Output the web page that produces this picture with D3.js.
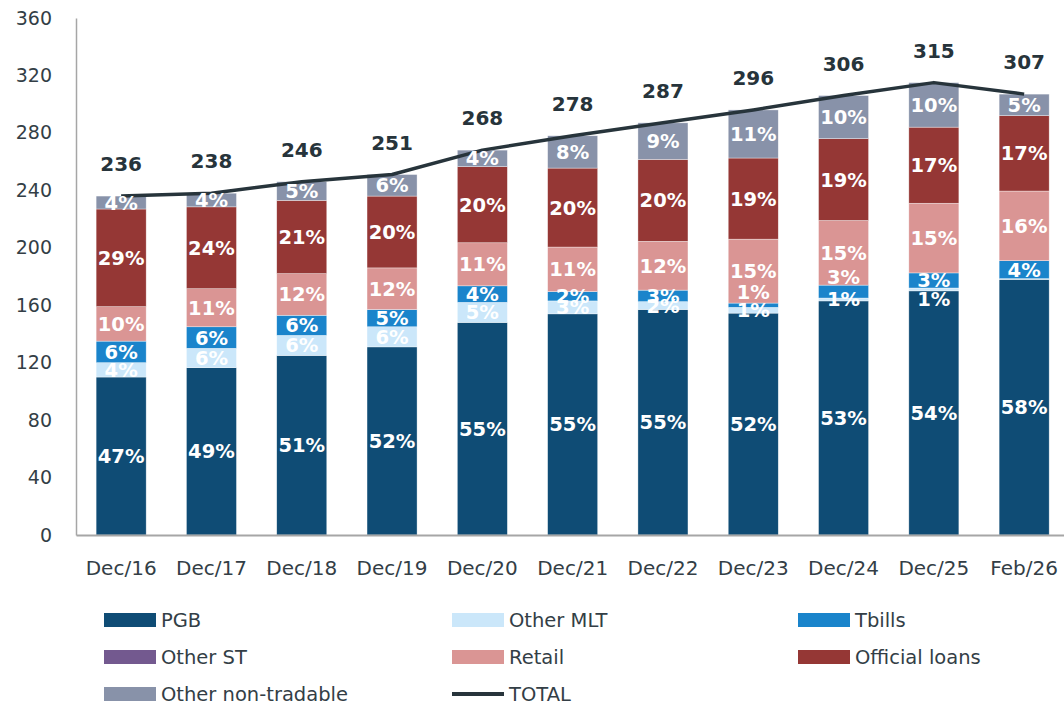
<!DOCTYPE html>
<html>
<head>
<meta charset="utf-8">
<script src="https://cdn.jsdelivr.net/npm/d3@7"></script>
<style>
  html, body { margin: 0; padding: 0; background: #fff; }
  svg { display: block; }
</style>
</head>
<body>
<svg id="chart" width="1064" height="705"></svg>
<script>
// Public debt stock by instrument (EUR bn), end of period
const categories = ["Dec/16", "Dec/17", "Dec/18", "Dec/19", "Dec/20", "Dec/21", "Dec/22", "Dec/23", "Dec/24", "Dec/25", "Feb/26"];
const pgb              = [110, 116.5, 125, 131, 148, 154, 157, 154.5, 163, 170, 178];
const otherMLT         = [10, 13.5, 14, 14, 14, 9, 5.5, 4, 2, 2, 0.5];
const tbills           = [15, 15, 14, 12, 11.5, 6.5, 8, 3, 9, 10.5, 12.5];
const otherST          = [0, 0, 0, 0, 0, 0, 0, 0, 0, 0, 0];
const retail           = [24, 26.5, 29, 29, 30, 31, 34, 44.5, 45, 48.5, 48.5];
const officialLoans    = [68, 57, 51, 50, 53, 55, 57, 56.5, 57, 53, 52.5];
const otherNonTradable = [9, 9.5, 13, 15, 11.5, 22.5, 25.5, 33.5, 30, 31, 15];
const totals           = [236, 238, 246, 251, 268, 278, 287, 296, 306, 315, 307];
const yTicks           = [0, 40, 80, 120, 160, 200, 240, 280, 320, 360];

const series = [
  { key: "pgb",              name: "PGB",                 values: pgb,              color: "#0F4C75" },
  { key: "otherMLT",         name: "Other MLT",           values: otherMLT,         color: "#CBE7FA" },
  { key: "tbills",           name: "Tbills",              values: tbills,           color: "#1A84CB" },
  { key: "otherST",          name: "Other ST",            values: otherST,          color: "#73598F" },
  { key: "retail",           name: "Retail",              values: retail,           color: "#DA9594" },
  { key: "officialLoans",    name: "Official loans",      values: officialLoans,    color: "#953735" },
  { key: "otherNonTradable", name: "Other non-tradable",  values: otherNonTradable, color: "#8892A9" }
];

// Rows for d3.stack
const table = categories.map((c, i) => {
  const row = { category: c, total: totals[i] };
  series.forEach(s => { row[s.key] = s.values[i]; });
  return row;
});

const svg = d3.select("#chart");
const plotLeft = 76, plotTop = 18, plotBottom = 535;

const x = d3.scaleBand()
  .domain(categories)
  .range([plotLeft, plotLeft + 90.3 * categories.length])
  .paddingInner(0.446)
  .paddingOuter(0.223);

const y = d3.scaleLinear().domain([0, 360]).range([plotBottom, plotTop]);

const stack = d3.stack().keys(series.map(s => s.key));
const layers = stack(table);

const textColor = "#333E46";
const font = "'DejaVu Sans', sans-serif";

// Bars
const gBars = svg.append("g");
layers.forEach((layer, li) => {
  gBars.selectAll(null)
    .data(layer)
    .join("rect")
    .attr("x", d => x(d.data.category))
    .attr("width", x.bandwidth())
    .attr("y", d => y(d[1]))
    .attr("height", d => Math.max(0, y(d[0]) - y(d[1])))
    .attr("fill", series[li].color)
    .attr("stroke", d => (d[1] - d[0]) > 0 ? "#ffffff" : "none")
    .attr("stroke-width", 0.6)
    .attr("stroke-opacity", 0.6);
});

// Axes
const yAxis = d3.axisLeft(y).tickValues(yTicks).tickSize(0).tickPadding(24);
const gy = svg.append("g").attr("transform", `translate(${plotLeft},0)`).call(yAxis);
gy.select(".domain").attr("stroke", "#A6A6A6").attr("stroke-width", 1.5);
gy.selectAll("text")
  .attr("font-family", font)
  .attr("font-size", 19)
  .attr("fill", textColor);

const xAxis = d3.axisBottom(x).tickSize(0).tickPadding(26);
const gx = svg.append("g").attr("transform", `translate(0,${plotBottom})`).call(xAxis);
gx.select(".domain").attr("stroke", "#A6A6A6").attr("stroke-width", 2);
gx.selectAll("text")
  .attr("font-family", font)
  .attr("font-size", 20)
  .attr("fill", textColor);

// TOTAL line
const line = d3.line()
  .x(d => x(d.category) + x.bandwidth() / 2)
  .y(d => y(d.total));
svg.append("path")
  .datum(table)
  .attr("d", line)
  .attr("fill", "none")
  .attr("stroke", "#27343B")
  .attr("stroke-width", 3.5)
  .attr("stroke-linejoin", "round");

// Total value labels
svg.append("g").selectAll("text")
  .data(table)
  .join("text")
  .attr("x", d => x(d.category) + x.bandwidth() / 2)
  .attr("y", d => y(d.total) - 25)
  .attr("text-anchor", "middle")
  .attr("font-family", font)
  .attr("font-weight", "bold")
  .attr("font-size", 20)
  .attr("fill", "#27343B")
  .text(d => d.total);

// Share labels (hand-placed where thin segments crowd each other)
const labelNudge = { "Dec/23|tbills": -13, "Dec/24|tbills": -15, "Dec/25|otherMLT": 10 };
const gLab = svg.append("g");
layers.forEach(layer => {
  const key = layer.key;
  gLab.selectAll(null)
    .data(layer.filter(d => Math.round((d[1] - d[0]) / d.data.total * 100) > 0))
    .join("text")
    .attr("x", d => x(d.data.category) + x.bandwidth() / 2)
    .attr("y", d => (y(d[0]) + y(d[1])) / 2 + (labelNudge[d.data.category + "|" + key] || 0))
    .attr("dy", "0.36em")
    .attr("text-anchor", "middle")
    .attr("font-family", font)
    .attr("font-weight", "bold")
    .attr("font-size", 19.5)
    .attr("fill", "#ffffff")
    .text(d => Math.round((d[1] - d[0]) / d.data.total * 100) + "%");
});

// Legend
const legendItems = series.map(s => ({ name: s.name, color: s.color, type: "rect" }))
  .concat([{ name: "TOTAL", color: "#27343B", type: "line" }]);
const colX = [104, 452, 798];
const rowY = [620, 657, 694];
const gLeg = svg.append("g");
legendItems.forEach((it, i) => {
  const cx = colX[i % 3], cy = rowY[Math.floor(i / 3)];
  if (it.type === "rect") {
    gLeg.append("rect").attr("x", cx).attr("y", cy - 7).attr("width", 52).attr("height", 14).attr("fill", it.color);
  } else {
    gLeg.append("line").attr("x1", cx).attr("x2", cx + 52).attr("y1", cy).attr("y2", cy)
      .attr("stroke", it.color).attr("stroke-width", 4);
  }
  gLeg.append("text")
    .attr("x", cx + 57).attr("y", cy).attr("dy", "0.36em")
    .attr("font-family", font).attr("font-size", 19.5).attr("fill", textColor)
    .text(it.name);
});
</script>
</body>
</html>
